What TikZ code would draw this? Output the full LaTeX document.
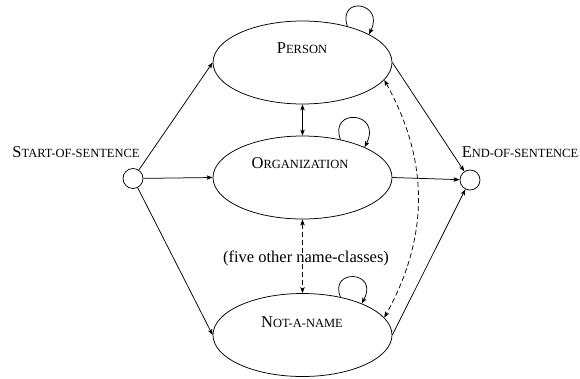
\documentclass[tikz,border=0pt]{standalone}
\usepackage{fontspec}
\setmainfont{Liberation Serif}
\usetikzlibrary{arrows.meta,shapes.geometric}
\newcommand\fsc[2]{#1{\fontsize{12.5pt}{12.5pt}\selectfont #2}}
\begin{document}
\begin{tikzpicture}[x=1pt,y=-1pt,
  every path/.style={line width=0.75pt},
  >={Stealth[length=6pt,width=4.5pt,inset=1.5pt]},
  state/.style={draw,ellipse,minimum width=179pt,minimum height=83pt,inner sep=0pt},
  term/.style={draw,circle,minimum size=20pt,inner sep=0pt},
  lbl/.style={font=\fontsize{16.5pt}{18pt}\selectfont,inner sep=0pt,anchor=base},
  dsh/.style={dash pattern=on 5pt off 3pt}]
\useasboundingbox (0,0) rectangle (580,378);
\node[state] (person) at (302.5,62.5) {};
\node[state] (org) at (302.5,177.5) {};
\node[state] (nan) at (302.5,335) {};
\node[term] (start) at (133,178.5) {};
\node[term] (end) at (470,180) {};
\node[lbl] (lperson) at (302,53) {\fsc{P}{ERSON}};
\node[lbl] (lorg) at (300,168) {\fsc{O}{RGANIZATION}};
\node[lbl] (lnan) at (302,327) {\fsc{N}{OT-A-NAME}};
\node[lbl] (lstart) at (76,157) {\fsc{S}{TART-OF-SENTENCE}};
\node[lbl] (lend) at (520,157) {\fsc{E}{ND-OF-SENTENCE}};
\draw[<->,dsh] (org.south) -- (nan.north);
\node[lbl] (lfive) at (306,262) {(five other name-classes)};
\draw[->] (start) -- (person.west);
\draw[->] (start) -- (org.west);
\draw[->] (start) -- (nan.west);
\draw[->] (person.east) -- (end);
\draw[->] (org.east) -- (end);
\draw[->] (nan.east) -- (end);
\draw[<->] (person.south) -- (org.north);
\draw[<->,dsh] (person.-12) to[bend left=29] (nan.12);
\draw[->] (person.39) .. controls +(-10,-31) and +(16,-32) .. (person.23);
\draw[->] (org.45) .. controls +(-12,-32) and +(18,-36) .. (org.26);
\draw[->] (nan.45) .. controls +(-12,-29) and +(18,-33) .. (nan.28);
\end{tikzpicture}
\end{document}
